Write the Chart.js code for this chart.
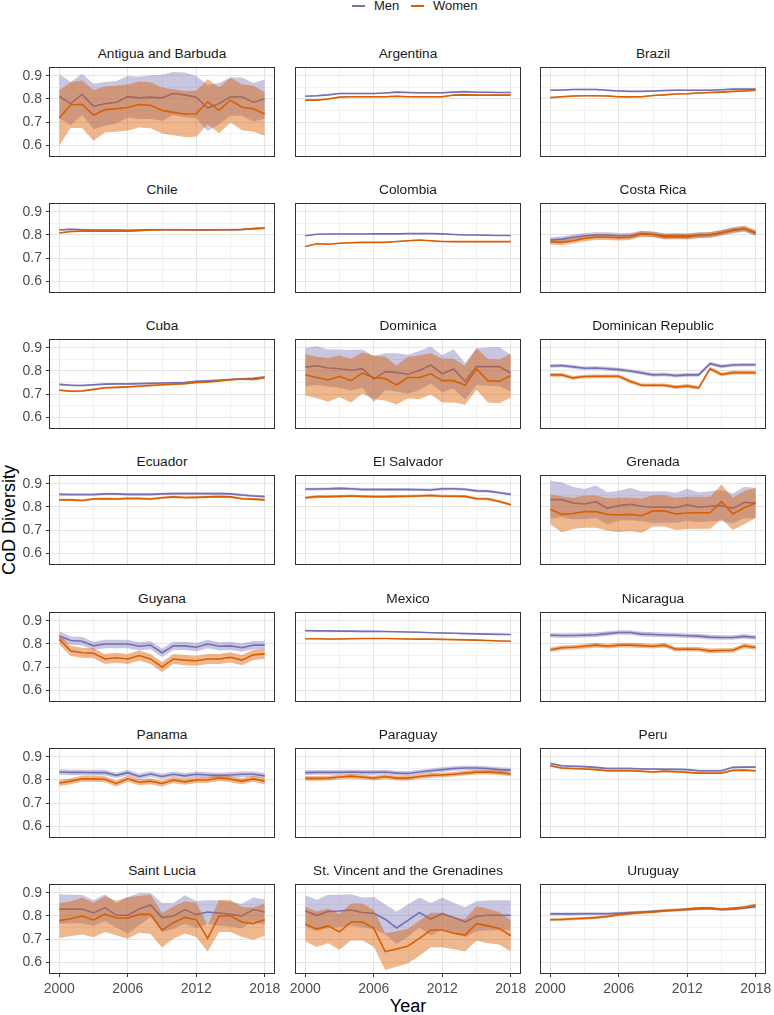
<!DOCTYPE html>
<html>
<head>
<meta charset="utf-8">
<script src="https://cdn.jsdelivr.net/npm/chart.js@4.4.1/dist/chart.umd.min.js"></script>
<style>
  body { margin: 0; background: #fff; font-family: "Liberation Sans", Arial, sans-serif; }
  #page { position: relative; width: 774px; height: 1015px; overflow: hidden; }
  #page canvas { position: absolute; }
  .title { position: absolute; width: 226px; text-align: center; font-size: 13.7px; line-height: 16px; color: #1a1a1a; white-space: nowrap; }
  .axis-title { position: absolute; width: 200px; text-align: center; font-size: 18px; line-height: 20px; color: #000; }
  .key { position: absolute; top: 5px; width: 13px; height: 2px; }
  .key-label { position: absolute; top: -1px; font-size: 13px; line-height: 14px; color: #1a1a1a; }
</style>
</head>
<body>
<div id="page">
  <div class="key" style="left:352px;background:#7570B3"></div>
  <div class="key-label" style="left:374px">Men</div>
  <div class="key" style="left:411px;background:#D95F02"></div>
  <div class="key-label" style="left:433px">Women</div>
  <div class="axis-title" style="left:308px;top:996px">Year</div>
  <div class="axis-title" style="left:-91px;top:510px;transform:rotate(-90deg)">CoD Diversity</div>
</div>
<script>
const years = [2000,2001,2002,2003,2004,2005,2006,2007,2008,2009,2010,2011,2012,2013,2014,2015,2016,2017,2018];
const xTicks = [2000,2003,2006,2009,2012,2015,2018];
const xMajor = [2000,2006,2012,2018];
const yTicks = [0.6,0.65,0.7,0.75,0.8,0.85,0.9];
const yMajor = [0.6,0.7,0.8,0.9];

const countries = [
  'Antigua and Barbuda','Argentina','Brazil',
  'Chile','Colombia','Costa Rica',
  'Cuba','Dominica','Dominican Republic',
  'Ecuador','El Salvador','Grenada',
  'Guyana','Mexico','Nicaragua',
  'Panama','Paraguay','Peru',
  'Saint Lucia','St. Vincent and the Grenadines','Uruguay'
];

// mean diversity, one row per country (same order as countries)
const menMean = [
  [0.812,0.780,0.820,0.768,0.779,0.786,0.810,0.805,0.808,0.805,0.824,0.818,0.808,0.761,0.780,0.810,0.810,0.786,0.800],
  [0.812,0.814,0.818,0.824,0.824,0.824,0.824,0.826,0.830,0.828,0.827,0.827,0.827,0.830,0.832,0.829,0.829,0.828,0.828],
  [0.838,0.839,0.841,0.841,0.841,0.838,0.835,0.833,0.833,0.835,0.837,0.838,0.838,0.838,0.838,0.840,0.843,0.843,0.843],
  [0.822,0.825,0.823,0.822,0.822,0.822,0.820,0.822,0.823,0.823,0.823,0.823,0.822,0.822,0.823,0.823,0.824,0.827,0.829],
  [0.797,0.803,0.804,0.804,0.804,0.804,0.805,0.805,0.805,0.806,0.806,0.806,0.805,0.802,0.800,0.800,0.799,0.798,0.798],
  [0.778,0.782,0.790,0.797,0.800,0.800,0.797,0.798,0.806,0.803,0.796,0.797,0.796,0.800,0.801,0.810,0.820,0.826,0.810],
  [0.742,0.738,0.737,0.740,0.743,0.744,0.744,0.745,0.746,0.748,0.749,0.750,0.755,0.757,0.760,0.763,0.766,0.768,0.774],
  [0.817,0.823,0.813,0.810,0.803,0.810,0.765,0.797,0.794,0.786,0.802,0.826,0.788,0.809,0.755,0.819,0.819,0.819,0.791],
  [0.822,0.824,0.818,0.812,0.813,0.810,0.806,0.800,0.792,0.783,0.785,0.780,0.783,0.783,0.832,0.820,0.826,0.827,0.827],
  [0.855,0.854,0.854,0.854,0.857,0.857,0.855,0.855,0.855,0.857,0.858,0.858,0.858,0.858,0.858,0.857,0.852,0.848,0.845],
  [0.878,0.878,0.879,0.881,0.879,0.876,0.876,0.876,0.876,0.876,0.875,0.874,0.879,0.879,0.877,0.870,0.869,0.862,0.855],
  [0.832,0.832,0.817,0.813,0.823,0.794,0.806,0.812,0.803,0.799,0.800,0.797,0.809,0.799,0.803,0.806,0.794,0.820,0.817],
  [0.835,0.815,0.812,0.792,0.800,0.800,0.800,0.790,0.795,0.762,0.792,0.792,0.786,0.800,0.790,0.792,0.784,0.795,0.795],
  [0.858,0.857,0.857,0.856,0.856,0.855,0.855,0.854,0.853,0.852,0.851,0.849,0.848,0.847,0.845,0.844,0.843,0.842,0.841],
  [0.838,0.837,0.837,0.838,0.840,0.845,0.850,0.850,0.843,0.841,0.839,0.838,0.836,0.834,0.830,0.828,0.828,0.833,0.828],
  [0.835,0.833,0.833,0.832,0.832,0.820,0.832,0.815,0.826,0.815,0.825,0.818,0.825,0.822,0.820,0.822,0.825,0.825,0.818],
  [0.832,0.833,0.833,0.833,0.835,0.833,0.833,0.835,0.830,0.828,0.835,0.840,0.845,0.850,0.852,0.852,0.850,0.845,0.843],
  [0.872,0.862,0.860,0.858,0.855,0.850,0.850,0.850,0.848,0.848,0.846,0.846,0.845,0.840,0.840,0.840,0.855,0.856,0.856],
  [0.830,0.830,0.830,0.813,0.836,0.803,0.803,0.830,0.848,0.793,0.800,0.828,0.806,0.817,0.813,0.807,0.800,0.828,0.817],
  [0.822,0.803,0.820,0.822,0.826,0.815,0.812,0.786,0.748,0.781,0.815,0.786,0.810,0.793,0.774,0.799,0.803,0.803,0.803],
  [0.809,0.809,0.809,0.810,0.810,0.810,0.812,0.815,0.817,0.820,0.823,0.826,0.828,0.831,0.833,0.828,0.830,0.835,0.840]
];

const womenMean = [
  [0.718,0.774,0.777,0.729,0.754,0.758,0.763,0.776,0.773,0.750,0.742,0.735,0.736,0.788,0.751,0.795,0.764,0.758,0.735],
  [0.795,0.795,0.800,0.808,0.810,0.810,0.810,0.810,0.812,0.810,0.810,0.810,0.810,0.817,0.818,0.817,0.817,0.817,0.817],
  [0.806,0.810,0.813,0.814,0.814,0.813,0.810,0.809,0.810,0.815,0.818,0.822,0.823,0.826,0.828,0.830,0.833,0.835,0.838],
  [0.809,0.815,0.817,0.817,0.817,0.817,0.817,0.819,0.822,0.823,0.823,0.823,0.823,0.823,0.823,0.823,0.824,0.828,0.830],
  [0.750,0.762,0.760,0.764,0.766,0.768,0.768,0.768,0.772,0.775,0.778,0.775,0.772,0.771,0.771,0.771,0.771,0.771,0.771],
  [0.770,0.768,0.775,0.785,0.790,0.790,0.788,0.790,0.805,0.802,0.792,0.793,0.792,0.798,0.800,0.810,0.822,0.828,0.808],
  [0.717,0.712,0.713,0.720,0.727,0.729,0.731,0.734,0.737,0.740,0.743,0.745,0.750,0.752,0.757,0.762,0.765,0.763,0.771],
  [0.784,0.772,0.761,0.777,0.758,0.791,0.772,0.767,0.739,0.772,0.772,0.788,0.758,0.758,0.738,0.809,0.758,0.755,0.780],
  [0.783,0.783,0.770,0.776,0.777,0.777,0.777,0.755,0.738,0.738,0.738,0.730,0.735,0.727,0.810,0.785,0.793,0.793,0.793],
  [0.831,0.831,0.828,0.835,0.836,0.835,0.837,0.837,0.835,0.840,0.844,0.841,0.842,0.844,0.845,0.844,0.836,0.834,0.831],
  [0.840,0.845,0.845,0.846,0.848,0.846,0.845,0.845,0.846,0.847,0.848,0.850,0.847,0.847,0.846,0.836,0.835,0.824,0.810],
  [0.790,0.768,0.772,0.780,0.780,0.768,0.765,0.768,0.762,0.783,0.783,0.770,0.774,0.775,0.775,0.823,0.770,0.797,0.817],
  [0.820,0.770,0.762,0.760,0.735,0.740,0.735,0.750,0.735,0.700,0.735,0.730,0.727,0.735,0.735,0.742,0.730,0.753,0.757],
  [0.823,0.823,0.822,0.822,0.823,0.824,0.824,0.824,0.823,0.822,0.821,0.821,0.820,0.819,0.818,0.817,0.815,0.813,0.812],
  [0.775,0.784,0.786,0.790,0.795,0.790,0.795,0.795,0.793,0.790,0.795,0.777,0.778,0.777,0.770,0.772,0.773,0.792,0.785],
  [0.787,0.795,0.805,0.805,0.803,0.785,0.805,0.790,0.795,0.785,0.800,0.792,0.800,0.800,0.810,0.803,0.795,0.805,0.795],
  [0.807,0.807,0.808,0.813,0.817,0.813,0.808,0.815,0.808,0.808,0.815,0.820,0.822,0.825,0.830,0.834,0.834,0.832,0.826],
  [0.862,0.852,0.850,0.848,0.845,0.840,0.840,0.840,0.838,0.835,0.838,0.836,0.833,0.830,0.830,0.830,0.842,0.843,0.840],
  [0.780,0.788,0.800,0.783,0.808,0.791,0.791,0.807,0.807,0.738,0.771,0.794,0.784,0.703,0.800,0.800,0.774,0.767,0.784],
  [0.765,0.743,0.757,0.731,0.774,0.774,0.746,0.645,0.657,0.670,0.703,0.739,0.739,0.725,0.717,0.767,0.757,0.746,0.714],
  [0.784,0.785,0.788,0.790,0.793,0.798,0.806,0.810,0.815,0.818,0.823,0.826,0.830,0.834,0.834,0.829,0.833,0.838,0.848]
];

// half-width of the shaded interval
const menCi = [
  [0.095,0.094,0.090,0.098,0.095,0.092,0.090,0.092,0.095,0.100,0.093,0.097,0.092,0.100,0.090,0.083,0.083,0.084,0.085],
  [0.003,0.003,0.003,0.003,0.003,0.003,0.003,0.003,0.003,0.003,0.003,0.003,0.003,0.003,0.003,0.003,0.003,0.003,0.003],
  [0.003,0.003,0.003,0.003,0.003,0.003,0.003,0.003,0.003,0.003,0.003,0.003,0.003,0.003,0.003,0.003,0.003,0.003,0.003],
  [0.004,0.004,0.004,0.004,0.004,0.004,0.004,0.004,0.004,0.004,0.004,0.004,0.004,0.004,0.004,0.004,0.004,0.004,0.004],
  [0.002,0.002,0.002,0.002,0.002,0.002,0.002,0.002,0.002,0.002,0.002,0.002,0.002,0.002,0.002,0.002,0.002,0.002,0.002],
  [0.012,0.012,0.012,0.012,0.012,0.012,0.012,0.012,0.012,0.012,0.012,0.012,0.012,0.012,0.012,0.012,0.012,0.012,0.012],
  [0.004,0.004,0.004,0.004,0.004,0.004,0.004,0.004,0.004,0.004,0.004,0.004,0.004,0.004,0.004,0.004,0.004,0.004,0.004],
  [0.083,0.084,0.080,0.083,0.088,0.083,0.100,0.080,0.083,0.085,0.085,0.080,0.080,0.085,0.080,0.080,0.083,0.085,0.080],
  [0.008,0.008,0.008,0.008,0.008,0.008,0.008,0.008,0.008,0.008,0.008,0.008,0.008,0.008,0.008,0.008,0.008,0.008,0.008],
  [0.005,0.005,0.005,0.005,0.005,0.005,0.005,0.005,0.005,0.005,0.005,0.005,0.005,0.005,0.005,0.005,0.005,0.005,0.005],
  [0.006,0.006,0.006,0.006,0.006,0.006,0.006,0.006,0.006,0.006,0.006,0.006,0.006,0.006,0.006,0.006,0.006,0.006,0.006],
  [0.082,0.075,0.070,0.065,0.070,0.070,0.065,0.070,0.065,0.068,0.068,0.065,0.070,0.065,0.065,0.068,0.065,0.068,0.065],
  [0.020,0.018,0.018,0.018,0.018,0.018,0.018,0.018,0.018,0.018,0.018,0.018,0.018,0.018,0.018,0.018,0.018,0.018,0.018],
  [0.002,0.002,0.002,0.002,0.002,0.002,0.002,0.002,0.002,0.002,0.002,0.002,0.002,0.002,0.002,0.002,0.002,0.002,0.002],
  [0.010,0.010,0.010,0.010,0.010,0.010,0.010,0.010,0.010,0.010,0.010,0.010,0.010,0.010,0.010,0.010,0.010,0.010,0.010],
  [0.012,0.012,0.012,0.012,0.012,0.012,0.012,0.012,0.012,0.012,0.012,0.012,0.012,0.012,0.012,0.012,0.012,0.012,0.012],
  [0.010,0.010,0.010,0.010,0.010,0.010,0.010,0.010,0.010,0.010,0.010,0.010,0.010,0.010,0.010,0.010,0.010,0.010,0.010],
  [0.004,0.004,0.004,0.004,0.004,0.004,0.004,0.004,0.004,0.004,0.004,0.004,0.004,0.004,0.004,0.004,0.004,0.004,0.004],
  [0.064,0.062,0.062,0.055,0.058,0.053,0.080,0.070,0.052,0.063,0.056,0.062,0.059,0.051,0.055,0.054,0.053,0.052,0.055],
  [0.068,0.068,0.072,0.070,0.068,0.065,0.070,0.065,0.070,0.070,0.065,0.070,0.070,0.065,0.065,0.065,0.065,0.065,0.065],
  [0.006,0.006,0.006,0.006,0.006,0.006,0.006,0.006,0.006,0.006,0.006,0.006,0.006,0.006,0.006,0.006,0.006,0.006,0.006]
];

const womenCi = [
  [0.120,0.100,0.103,0.110,0.100,0.100,0.100,0.100,0.100,0.100,0.100,0.100,0.100,0.098,0.100,0.097,0.100,0.100,0.095],
  [0.003,0.003,0.003,0.003,0.003,0.003,0.003,0.003,0.003,0.003,0.003,0.003,0.003,0.003,0.003,0.003,0.003,0.003,0.003],
  [0.003,0.003,0.003,0.003,0.003,0.003,0.003,0.003,0.003,0.003,0.003,0.003,0.003,0.003,0.003,0.003,0.003,0.003,0.003],
  [0.003,0.003,0.003,0.003,0.003,0.003,0.003,0.003,0.003,0.003,0.003,0.003,0.003,0.003,0.003,0.003,0.003,0.003,0.003],
  [0.002,0.002,0.002,0.002,0.002,0.002,0.002,0.002,0.002,0.002,0.002,0.002,0.002,0.002,0.002,0.002,0.002,0.002,0.002],
  [0.012,0.012,0.012,0.012,0.012,0.012,0.012,0.012,0.012,0.012,0.012,0.012,0.012,0.012,0.012,0.012,0.012,0.012,0.012],
  [0.004,0.004,0.004,0.004,0.004,0.004,0.004,0.004,0.004,0.004,0.004,0.004,0.004,0.004,0.004,0.004,0.004,0.004,0.004],
  [0.090,0.090,0.095,0.090,0.095,0.090,0.095,0.095,0.085,0.090,0.095,0.090,0.095,0.095,0.085,0.090,0.095,0.095,0.095],
  [0.008,0.008,0.008,0.008,0.008,0.008,0.008,0.008,0.008,0.008,0.008,0.008,0.008,0.008,0.008,0.008,0.008,0.008,0.008],
  [0.005,0.005,0.005,0.005,0.005,0.005,0.005,0.005,0.005,0.005,0.005,0.005,0.005,0.005,0.005,0.005,0.005,0.005,0.005],
  [0.006,0.006,0.006,0.006,0.006,0.006,0.006,0.006,0.006,0.006,0.006,0.006,0.006,0.006,0.006,0.006,0.006,0.006,0.006],
  [0.065,0.078,0.068,0.070,0.070,0.070,0.075,0.072,0.075,0.068,0.068,0.070,0.070,0.070,0.070,0.075,0.070,0.072,0.065],
  [0.022,0.022,0.022,0.022,0.022,0.022,0.022,0.022,0.022,0.022,0.022,0.022,0.022,0.022,0.022,0.022,0.022,0.022,0.022],
  [0.002,0.002,0.002,0.002,0.002,0.002,0.002,0.002,0.002,0.002,0.002,0.002,0.002,0.002,0.002,0.002,0.002,0.002,0.002],
  [0.010,0.010,0.010,0.010,0.010,0.010,0.010,0.010,0.010,0.010,0.010,0.010,0.010,0.010,0.010,0.010,0.010,0.010,0.010],
  [0.013,0.013,0.013,0.013,0.013,0.013,0.013,0.013,0.013,0.013,0.013,0.013,0.013,0.013,0.013,0.013,0.013,0.013,0.013],
  [0.010,0.010,0.010,0.010,0.010,0.010,0.010,0.010,0.010,0.010,0.010,0.010,0.010,0.010,0.010,0.010,0.010,0.010,0.010],
  [0.004,0.004,0.004,0.004,0.004,0.004,0.004,0.004,0.004,0.004,0.004,0.004,0.004,0.004,0.004,0.004,0.004,0.004,0.004],
  [0.076,0.075,0.080,0.075,0.078,0.075,0.090,0.080,0.085,0.075,0.070,0.070,0.075,0.058,0.070,0.070,0.065,0.070,0.070],
  [0.075,0.078,0.075,0.078,0.080,0.080,0.080,0.080,0.077,0.075,0.076,0.075,0.075,0.070,0.070,0.075,0.075,0.070,0.068],
  [0.006,0.006,0.006,0.006,0.006,0.006,0.006,0.006,0.006,0.006,0.006,0.006,0.006,0.006,0.006,0.006,0.006,0.006,0.006]
];

const menColor = '#7570B3';
const womenColor = '#D95F02';
const menFill = 'rgba(117,112,179,0.4)';
const womenFill = 'rgba(217,95,2,0.45)';
const fontFamily = '"Liberation Sans", Arial, sans-serif';

// panel geometry (plot area inside the border)
const colLeft = [49, 295, 540];
const rowTop = [67, 203, 339, 475, 612, 748, 884];
const plotW = 226, plotH = 90, yAxisW = 49, xAxisH = 30;
const pad = 18; // spare room so Chart.js never shrinks the plot area for labels

// ggplot style frame round each panel
const panelBorder = {
  id: 'panelBorder',
  afterDraw(chart) {
    const a = chart.chartArea, ctx = chart.ctx;
    ctx.save();
    ctx.strokeStyle = '#333333';
    ctx.lineWidth = 1;
    ctx.strokeRect(a.left + 0.5, a.top + 0.5, a.right - a.left - 1, a.bottom - a.top - 1);
    ctx.restore();
  }
};

function points(mean) {
  return years.map((yr, i) => ({ x: yr, y: mean[i] }));
}
function bound(mean, ci, dir) {
  return years.map((yr, i) => ({ x: yr, y: mean[i] + dir * ci[i] }));
}

const page = document.getElementById('page');

countries.forEach((name, k) => {
  const c = k % 3, r = Math.floor(k / 3);
  const yW = c === 0 ? yAxisW : 0;
  const xH = r === 6 ? xAxisH : 0;

  const title = document.createElement('div');
  title.className = 'title';
  title.textContent = name;
  title.style.left = colLeft[c] + 'px';
  title.style.top = (rowTop[r] - 21) + 'px';
  page.appendChild(title);

  const canvas = document.createElement('canvas');
  canvas.width = pad * 2 + yW + plotW;
  canvas.height = pad * 2 + plotH + xH;
  canvas.style.left = (colLeft[c] - yW - pad) + 'px';
  canvas.style.top = (rowTop[r] - pad) + 'px';
  page.appendChild(canvas);

  const noLine = 'rgba(0,0,0,0)';
  new Chart(canvas, {
    type: 'line',
    data: {
      datasets: [
        { data: bound(menMean[k], menCi[k], -1), borderColor: noLine, borderWidth: 0, fill: false, order: 5 },
        { data: bound(menMean[k], menCi[k], 1), borderColor: noLine, borderWidth: 0, backgroundColor: menFill, fill: '-1', order: 4 },
        { data: points(menMean[k]), borderColor: menColor, borderWidth: 1.6, fill: false, order: 3 },
        { data: bound(womenMean[k], womenCi[k], -1), borderColor: noLine, borderWidth: 0, fill: false, order: 2 },
        { data: bound(womenMean[k], womenCi[k], 1), borderColor: noLine, borderWidth: 0, backgroundColor: womenFill, fill: '-1', order: 1 },
        { data: points(womenMean[k]), borderColor: womenColor, borderWidth: 1.6, fill: false, order: 0 }
      ]
    },
    options: {
      responsive: false,
      animation: false,
      devicePixelRatio: 1,
      layout: { padding: pad },
      elements: { point: { radius: 0 }, line: { tension: 0 } },
      plugins: { legend: { display: false }, tooltip: { enabled: false } },
      scales: {
        x: {
          type: 'linear',
          min: 1999.1,
          max: 2018.9,
          afterBuildTicks: axis => { axis.ticks = xTicks.map(v => ({ value: v })); },
          afterFit: axis => { axis.height = xH; },
          border: { display: false },
          grid: {
            color: ctx => (ctx.tick && xMajor.includes(ctx.tick.value)) ? '#e4e4e4' : '#f1f1f1',
            lineWidth: 1,
            drawTicks: xH > 0,
            tickLength: 3,
            tickColor: ctx => (ctx.tick && xMajor.includes(ctx.tick.value)) ? '#333333' : noLine
          },
          ticks: {
            display: xH > 0,
            autoSkip: false,
            maxRotation: 0,
            padding: 4,
            color: '#4d4d4d',
            font: { family: fontFamily, size: 14 },
            callback: v => xMajor.includes(v) ? String(v) : ''
          }
        },
        y: {
          type: 'linear',
          min: 0.548,
          max: 0.939,
          afterBuildTicks: axis => { axis.ticks = yTicks.map(v => ({ value: v })); },
          afterFit: axis => { axis.width = yW; },
          border: { display: false },
          grid: {
            color: ctx => (ctx.tick && yMajor.includes(ctx.tick.value)) ? '#e4e4e4' : '#f1f1f1',
            lineWidth: 1,
            drawTicks: yW > 0,
            tickLength: 3,
            tickColor: ctx => (ctx.tick && yMajor.includes(ctx.tick.value)) ? '#333333' : noLine
          },
          ticks: {
            display: yW > 0,
            autoSkip: false,
            padding: 4,
            color: '#4d4d4d',
            font: { family: fontFamily, size: 14 },
            callback: v => yMajor.includes(v) ? v.toFixed(1) : ''
          }
        }
      }
    },
    plugins: [panelBorder]
  });
});
</script>
</body>
</html>
